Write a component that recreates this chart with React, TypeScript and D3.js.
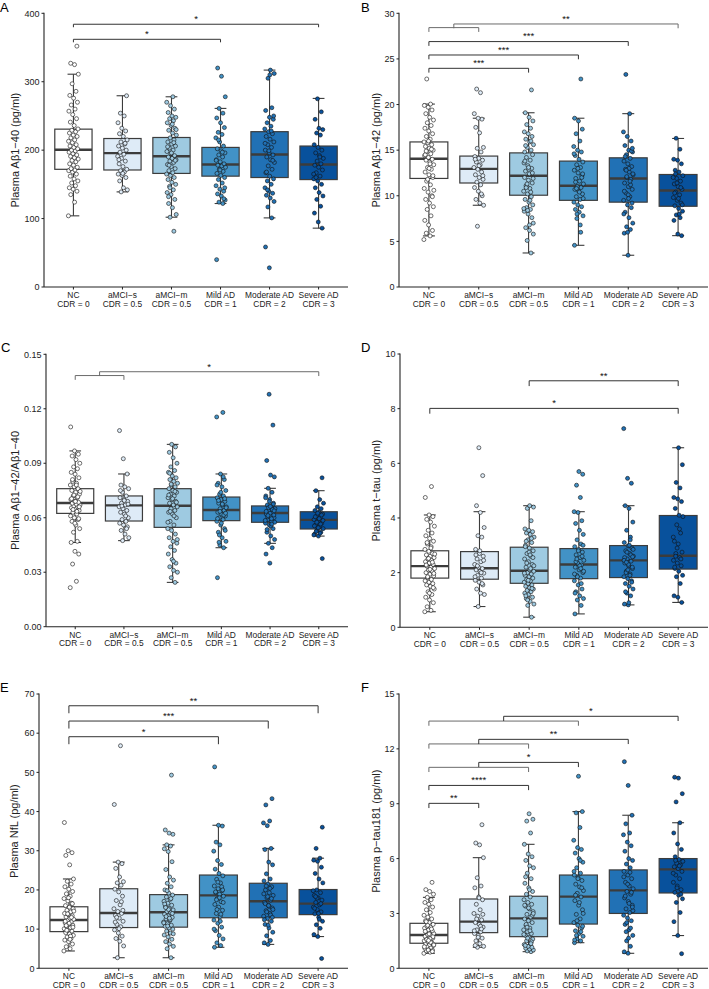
import React from 'react';
import * as d3 from 'd3';

const categories = ['NC', 'aMCI−s', 'aMCI−m', 'Mild AD', 'Moderate AD', 'Severe AD'];
const cdrLabels = ['CDR = 0', 'CDR = 0.5', 'CDR = 0.5', 'CDR = 1', 'CDR = 2', 'CDR = 3'];
const groupColors = ['#ffffff', '#deebf7', '#9ecae1', '#4292c6', '#2171b5', '#08519c'];

// box stats: [whiskerLow, q1, median, q3, whiskerHigh]
const boxA = [[104, 172, 200.5, 230.7, 311], [139, 171, 195.6, 217, 279.5], [102, 166, 191, 218.5, 278], [122, 162, 179, 204, 261], [101, 160, 193.7, 227, 317], [86, 157, 179, 206, 275.6]];
const boxB = [[5.6, 11.9, 14.05, 15.9, 20.05], [8.96, 11.4, 12.95, 14.35, 18.5], [3.73, 10.06, 12.2, 14.7, 19.1], [4.57, 9.5, 11.1, 13.8, 18.5], [3.48, 9.3, 11.9, 14.16, 19.0], [5.63, 8.85, 10.57, 12.33, 16.28]];
const boxC = [[0.0464, 0.0624, 0.0681, 0.076, 0.0968], [0.0474, 0.0582, 0.0668, 0.072, 0.0841], [0.0244, 0.0547, 0.0666, 0.076, 0.1004], [0.0435, 0.0584, 0.0643, 0.0714, 0.0841], [0.0459, 0.0575, 0.0626, 0.0665, 0.0762], [0.0499, 0.0538, 0.0588, 0.0633, 0.0749]];
const boxD = [[0.57, 1.8, 2.24, 2.8, 4.11], [0.76, 1.76, 2.16, 2.77, 4.23], [0.37, 1.61, 2.07, 2.93, 4.45], [0.49, 1.78, 2.3, 2.88, 4.23], [0.82, 1.82, 2.45, 2.99, 4.45], [0.91, 2.13, 2.62, 4.09, 6.57]];
const boxE = [[4.42, 9.36, 12.33, 15.7, 22.8], [2.7, 10.4, 14.1, 20.3, 27.1], [2.7, 10.5, 14.3, 18.8, 31.5], [5.36, 12.9, 18.6, 23.8, 36.5], [6.1, 12.9, 17.1, 21.7, 30.6], [8.1, 13.7, 16.5, 20.1, 28.1]];
const boxF = [[0.82, 1.37, 1.82, 2.46, 3.88], [1.15, 1.95, 2.55, 3.79, 6.05], [0.91, 1.73, 2.73, 3.94, 6.78], [1.4, 2.42, 3.92, 5.1, 8.57], [0.82, 3.0, 4.26, 5.38, 8.37], [1.79, 4.12, 5.41, 6.0, 7.96]];

// individual observations per group
const ptsA = [
  [104, 124, 135, 140, 143, 145, 148, 152, 155, 158, 162, 165, 168, 170, 171, 173, 175, 178, 180, 183, 185, 187, 189, 191, 193, 195, 197, 199, 200, 202, 204, 206, 208, 211, 213, 215, 218, 220, 222, 225, 227, 229, 231, 236, 241, 246, 252, 257, 260, 266, 270, 276, 280, 286, 297, 311, 325, 327, 352],
  [139, 142, 145, 155, 160, 163, 165, 168, 170, 172, 176, 180, 184, 188, 191, 194, 197, 200, 203, 206, 209, 212, 215, 220, 224, 228, 232, 240, 250, 254, 279.5, 166, 186, 210],
  [81.5, 102, 106, 116, 122, 128, 135, 138, 142, 147, 150, 153, 157, 160, 163, 165, 167, 170, 173, 176, 179, 182, 184, 186, 188, 190, 192, 195, 198, 200, 203, 206, 209, 212, 215, 218, 222, 225, 229, 232, 236, 240, 243, 246, 248, 250, 255, 260, 265, 270, 278, 178, 185, 196, 205, 211, 145, 230, 238, 132],
  [40, 122, 124, 127, 133, 136, 140, 143, 148, 152, 157, 160, 163, 166, 169, 172, 175, 177, 178, 180, 183, 186, 190, 193, 196, 199, 202, 206, 212, 218, 223, 226, 233, 240, 247, 254, 261, 278, 308, 320, 129, 171, 185, 197, 215, 145],
  [28, 58.5, 101, 117, 125, 130, 134, 137, 140, 145, 150, 155, 158, 162, 167, 172, 177, 182, 186, 190, 193, 196, 200, 204, 208, 212, 216, 220, 224, 227, 231, 235, 240, 245, 248, 258, 262, 305, 312, 317, 168, 185, 199, 210, 228, 142, 250, 310],
  [86, 95, 108, 118, 128, 133, 138, 145, 150, 155, 158, 162, 167, 171, 175, 178, 180, 184, 188, 192, 196, 200, 204, 208, 222, 225, 230, 232, 245, 256, 275, 165, 190, 160],
];
const ptsB = [
  [5.2, 5.6, 5.9, 6.2, 6.8, 7.3, 7.8, 8.5, 8.8, 9.2, 9.6, 10.0, 10.4, 10.8, 11.2, 11.6, 12.0, 12.3, 12.6, 12.9, 13.1, 13.4, 13.7, 13.9, 14.0, 14.2, 14.4, 14.6, 14.8, 15.0, 15.2, 15.4, 15.6, 15.8, 15.9, 16.2, 16.5, 16.8, 17.1, 17.4, 17.7, 18.0, 18.3, 18.6, 19.0, 19.4, 19.7, 19.9, 20.05, 22.8, 12.2, 13.0, 14.5, 15.1, 11.8, 10.6, 13.5, 14.9, 9.9, 16.0],
  [6.66, 8.96, 9.2, 9.6, 10.0, 10.5, 10.9, 11.2, 11.5, 11.8, 12.0, 12.3, 12.6, 12.9, 13.1, 13.4, 13.7, 13.9, 14.1, 14.3, 14.8, 15.2, 15.3, 16.9, 17.5, 18.4, 18.5, 19.0, 21.3, 21.7, 12.2, 13.3, 14.0, 10.2],
  [3.73, 5.1, 5.8, 6.2, 6.5, 7.6, 8.0, 8.3, 8.5, 8.7, 9.0, 9.3, 9.6, 9.9, 10.2, 10.5, 10.8, 11.1, 11.4, 11.7, 12.0, 10.4, 11.0, 11.9, 12.4, 12.7, 13.0, 13.3, 13.6, 13.9, 14.2, 14.5, 12.9, 13.8, 15.0, 15.3, 15.6, 15.9, 16.2, 16.5, 16.8, 17.0, 17.4, 17.8, 18.2, 18.6, 19.1, 21.6, 8.4, 8.6, 9.5, 10.9, 12.5, 13.1, 14.8, 16.0, 11.3, 7.0, 6.8, 15.5],
  [4.57, 6.0, 7.5, 7.8, 8.2, 8.5, 8.8, 9.0, 9.3, 9.6, 9.9, 10.2, 10.5, 10.7, 10.9, 11.0, 11.3, 11.6, 11.9, 12.2, 12.5, 12.8, 13.1, 13.4, 13.7, 14.0, 14.4, 14.8, 15.0, 15.4, 16.0, 16.8, 17.3, 18.2, 18.5, 22.8, 8.0, 9.7, 10.4, 11.5, 12.0, 13.0, 14.6, 6.8, 10.8, 12.4],
  [3.48, 5.9, 6.3, 6.6, 7.0, 7.6, 8.2, 8.7, 9.0, 9.5, 9.9, 10.3, 10.7, 11.0, 11.4, 11.8, 12.0, 12.3, 12.6, 12.9, 13.2, 13.5, 13.8, 14.1, 14.5, 14.8, 15.0, 15.5, 16.0, 16.5, 17.0, 19.0, 23.3, 9.2, 10.1, 10.5, 11.2, 12.1, 12.4, 13.0, 14.3, 14.9, 6.0, 8.0, 11.6, 12.8, 15.2, 9.7],
  [5.63, 5.8, 7.3, 7.6, 7.9, 8.3, 8.6, 8.9, 9.2, 9.5, 9.8, 10.1, 10.4, 10.7, 11.0, 11.3, 11.6, 11.9, 12.2, 12.6, 12.8, 13.5, 13.9, 14.0, 15.1, 16.3, 9.0, 9.7, 10.3, 10.9, 11.4, 12.0, 8.0, 12.4],
];
const ptsC = [
  [0.0215, 0.025, 0.0345, 0.04, 0.0415, 0.0464, 0.047, 0.052, 0.054, 0.056, 0.058, 0.059, 0.06, 0.061, 0.062, 0.063, 0.064, 0.065, 0.0655, 0.066, 0.0665, 0.067, 0.0675, 0.068, 0.0685, 0.069, 0.07, 0.071, 0.072, 0.073, 0.074, 0.075, 0.076, 0.077, 0.078, 0.079, 0.08, 0.082, 0.084, 0.085, 0.087, 0.088, 0.09, 0.092, 0.094, 0.095, 0.0968, 0.11, 0.0635, 0.0645, 0.066, 0.069, 0.0705, 0.0715, 0.0725, 0.0745, 0.078, 0.081, 0.0595, 0.057],
  [0.0474, 0.049, 0.051, 0.053, 0.055, 0.056, 0.057, 0.058, 0.059, 0.06, 0.062, 0.063, 0.064, 0.065, 0.066, 0.067, 0.068, 0.069, 0.07, 0.071, 0.072, 0.074, 0.076, 0.077, 0.078, 0.0841, 0.0925, 0.108, 0.061, 0.0665, 0.0675, 0.0695, 0.075, 0.054],
  [0.0244, 0.027, 0.03, 0.031, 0.033, 0.035, 0.037, 0.04, 0.042, 0.044, 0.046, 0.047, 0.049, 0.051, 0.053, 0.054, 0.056, 0.058, 0.06, 0.062, 0.063, 0.064, 0.065, 0.066, 0.067, 0.068, 0.069, 0.07, 0.071, 0.072, 0.073, 0.074, 0.075, 0.076, 0.077, 0.078, 0.079, 0.08, 0.081, 0.082, 0.083, 0.085, 0.086, 0.088, 0.09, 0.093, 0.096, 0.099, 0.1004, 0.0575, 0.061, 0.0635, 0.0685, 0.0705, 0.0725, 0.0745, 0.0785, 0.048, 0.036, 0.0845],
  [0.027, 0.0435, 0.045, 0.047, 0.049, 0.052, 0.054, 0.056, 0.058, 0.059, 0.06, 0.061, 0.062, 0.063, 0.064, 0.065, 0.066, 0.067, 0.068, 0.069, 0.07, 0.071, 0.072, 0.073, 0.075, 0.077, 0.079, 0.081, 0.0841, 0.1155, 0.118, 0.0465, 0.053, 0.057, 0.0595, 0.0615, 0.0635, 0.0655, 0.0675, 0.0695, 0.0705, 0.074, 0.078, 0.0825, 0.0505, 0.0625],
  [0.035, 0.04, 0.0435, 0.0459, 0.048, 0.05, 0.052, 0.054, 0.056, 0.057, 0.058, 0.059, 0.06, 0.061, 0.062, 0.063, 0.064, 0.065, 0.066, 0.067, 0.068, 0.07, 0.072, 0.074, 0.0762, 0.0825, 0.0835, 0.0915, 0.111, 0.128, 0.0585, 0.0595, 0.0605, 0.0615, 0.0625, 0.0635, 0.0645, 0.0655, 0.0575, 0.0555, 0.0535, 0.0675, 0.069, 0.071, 0.0565, 0.0612, 0.0638, 0.0662],
  [0.0375, 0.0499, 0.051, 0.052, 0.053, 0.054, 0.055, 0.056, 0.057, 0.058, 0.059, 0.06, 0.061, 0.062, 0.063, 0.064, 0.065, 0.066, 0.068, 0.07, 0.0749, 0.082, 0.0545, 0.0555, 0.0565, 0.0575, 0.0585, 0.0595, 0.0605, 0.0615, 0.0625, 0.0505, 0.0515, 0.0525],
];
const ptsD = [
  [0.57, 0.62, 0.75, 0.9, 1.0, 1.1, 1.2, 1.3, 1.4, 1.5, 1.55, 1.6, 1.65, 1.7, 1.75, 1.82, 1.88, 1.94, 2.0, 2.05, 2.1, 2.15, 2.2, 2.24, 2.3, 2.35, 2.4, 2.45, 2.5, 2.55, 2.6, 2.65, 2.7, 2.78, 2.85, 2.95, 3.05, 3.15, 3.25, 3.35, 3.45, 3.55, 3.7, 3.85, 3.95, 4.05, 4.11, 4.75, 5.15, 1.85, 1.97, 2.12, 2.28, 2.38, 2.52, 2.68, 2.9, 3.1, 1.45, 1.25],
  [0.76, 1.2, 1.25, 1.4, 1.55, 1.65, 1.72, 1.8, 1.9, 1.98, 2.05, 2.1, 2.15, 2.2, 2.3, 2.4, 2.5, 2.6, 2.7, 2.85, 3.3, 3.35, 3.65, 4.2, 4.45, 5.55, 6.57, 1.85, 2.0, 2.25, 2.45, 2.8, 2.65, 1.6],
  [0.37, 0.8, 0.85, 0.95, 1.05, 1.1, 1.2, 1.25, 1.3, 1.35, 1.4, 1.45, 1.5, 1.55, 1.6, 1.65, 1.7, 1.75, 1.8, 1.85, 1.9, 1.95, 2.0, 2.05, 2.1, 2.2, 2.3, 2.4, 2.5, 2.6, 2.7, 2.8, 2.9, 3.0, 3.1, 3.2, 3.3, 3.4, 3.45, 3.5, 3.55, 3.6, 3.9, 4.35, 4.4, 4.45, 1.15, 1.42, 1.72, 1.98, 2.15, 2.35, 2.55, 2.75, 2.95, 3.25, 1.0, 2.25, 2.65, 3.15],
  [0.49, 0.8, 1.0, 1.05, 1.15, 1.3, 1.4, 1.55, 1.7, 1.8, 1.9, 2.0, 2.1, 2.2, 2.28, 2.35, 2.45, 2.55, 2.65, 2.75, 2.85, 2.95, 3.05, 3.2, 3.4, 3.55, 3.8, 3.9, 4.2, 4.23, 4.75, 5.2, 5.6, 5.7, 1.25, 1.6, 1.85, 2.05, 2.25, 2.4, 2.6, 2.8, 1.95, 2.15, 2.5, 3.0],
  [0.82, 0.85, 1.15, 1.25, 1.4, 1.5, 1.6, 1.7, 1.78, 1.85, 1.95, 2.05, 2.15, 2.25, 2.35, 2.42, 2.5, 2.6, 2.7, 2.8, 2.9, 2.98, 3.1, 3.3, 3.55, 3.85, 4.35, 4.45, 5.27, 5.45, 7.27, 1.9, 2.0, 2.2, 2.3, 2.55, 2.65, 2.75, 2.85, 3.0, 1.3, 1.65, 2.1, 2.45, 3.2, 2.38, 2.58, 0.9],
  [0.91, 1.1, 1.15, 1.6, 1.85, 1.9, 2.05, 2.15, 2.25, 2.35, 2.45, 2.55, 2.7, 2.75, 3.05, 3.15, 3.45, 3.75, 4.05, 4.1, 4.35, 4.6, 4.7, 4.75, 5.1, 5.3, 5.95, 6.57, 2.2, 2.5, 2.9, 3.3, 3.6, 2.6],
];
const ptsE = [
  [4.42, 5.0, 5.5, 6.2, 6.8, 7.2, 7.6, 8.0, 8.4, 8.8, 9.1, 9.5, 9.8, 10.1, 10.4, 10.7, 11.0, 11.3, 11.6, 11.9, 12.2, 12.5, 12.8, 13.1, 13.4, 13.7, 14.0, 14.4, 14.8, 15.2, 15.6, 16.0, 16.6, 17.2, 17.8, 18.4, 19.0, 19.6, 20.2, 20.8, 21.5, 22.2, 22.8, 26.4, 28.8, 29.5, 30.0, 37.2, 8.2, 9.7, 10.5, 11.5, 12.0, 13.0, 13.9, 14.6, 7.4, 10.9, 16.5, 18.0],
  [2.7, 5.7, 6.9, 7.6, 8.2, 9.0, 9.8, 10.6, 11.2, 12.0, 12.8, 13.5, 14.0, 14.5, 15.2, 16.2, 17.3, 18.4, 19.5, 20.2, 21.2, 21.8, 22.1, 23.3, 25.5, 26.7, 27.1, 41.8, 56.8, 13.0, 14.8, 10.1, 11.8, 17.0],
  [2.7, 5.0, 5.6, 6.2, 6.8, 7.4, 8.0, 8.5, 9.0, 9.5, 10.0, 10.3, 10.7, 11.0, 11.4, 11.8, 12.2, 12.6, 13.0, 13.4, 13.8, 14.2, 14.5, 14.9, 15.3, 15.7, 16.1, 16.6, 17.1, 17.6, 18.2, 18.7, 19.2, 20.0, 20.8, 21.7, 22.5, 23.3, 25.2, 27.2, 29.8, 30.5, 31.2, 31.5, 34.2, 34.5, 35.3, 49.3, 10.8, 11.6, 12.4, 13.2, 14.0, 15.0, 16.4, 17.8, 19.8, 8.8, 12.8, 15.5],
  [5.36, 5.8, 6.5, 7.5, 8.4, 9.6, 10.5, 11.5, 12.3, 13.2, 14.0, 14.8, 15.6, 16.3, 17.0, 17.8, 18.4, 18.9, 19.3, 19.8, 20.3, 21.0, 21.8, 22.7, 23.6, 24.2, 25.3, 26.5, 27.5, 29.9, 31.5, 32.2, 36.3, 36.5, 51.4, 13.8, 15.0, 16.8, 18.0, 19.5, 20.8, 22.0, 10.0, 12.0, 17.5, 20.0],
  [6.1, 6.5, 7.1, 8.3, 9.2, 10.3, 11.2, 12.0, 12.7, 13.3, 14.0, 14.7, 15.4, 16.1, 16.8, 17.4, 18.0, 18.6, 19.3, 20.0, 20.8, 21.5, 22.3, 22.8, 24.1, 26.4, 27.1, 30.3, 30.6, 36.4, 37.1, 37.6, 41.7, 43.3, 11.0, 12.4, 13.6, 14.4, 15.0, 15.8, 16.5, 17.8, 18.3, 19.0, 20.4, 21.0, 13.0, 16.0],
  [2.5, 8.1, 8.6, 10.2, 11.1, 12.0, 13.0, 13.9, 14.4, 15.0, 15.6, 16.2, 16.8, 17.4, 18.0, 18.6, 19.3, 20.0, 21.8, 22.8, 24.2, 25.8, 27.3, 27.6, 28.1, 30.6, 36.0, 14.0, 15.3, 16.5, 17.9, 19.8, 12.5, 18.3],
];
const ptsF = [
  [0.82, 0.88, 0.95, 1.0, 1.05, 1.1, 1.15, 1.2, 1.25, 1.3, 1.35, 1.4, 1.45, 1.5, 1.55, 1.6, 1.65, 1.7, 1.75, 1.8, 1.85, 1.9, 1.95, 2.0, 2.05, 2.1, 2.2, 2.25, 2.3, 2.4, 2.5, 2.6, 2.7, 2.8, 2.9, 3.05, 3.2, 3.35, 3.5, 3.6, 3.75, 3.88, 4.05, 4.2, 4.3, 4.7, 1.0, 1.18, 1.42, 1.58, 1.72, 1.88, 2.02, 2.15, 2.35, 1.28, 1.62, 2.55, 0.92, 1.52],
  [1.15, 1.2, 1.35, 1.5, 1.65, 1.8, 1.9, 2.0, 2.1, 2.25, 2.4, 2.5, 2.65, 2.85, 3.0, 3.2, 3.5, 3.75, 3.9, 4.4, 4.5, 4.95, 6.05, 6.75, 6.85, 7.85, 1.7, 2.05, 2.3, 2.7, 2.95, 3.85, 1.25, 2.15],
  [0.91, 0.95, 1.0, 1.05, 1.1, 1.15, 1.2, 1.3, 1.4, 1.5, 1.6, 1.7, 1.8, 1.9, 2.0, 2.1, 2.2, 2.35, 2.5, 2.6, 2.7, 2.8, 2.95, 3.1, 3.25, 3.4, 3.5, 3.6, 3.75, 3.9, 4.05, 4.2, 4.4, 4.65, 4.9, 5.2, 5.5, 5.6, 5.9, 6.1, 6.25, 6.78, 7.4, 8.05, 8.15, 8.45, 1.25, 1.45, 1.65, 1.85, 2.05, 2.4, 2.9, 3.3, 3.45, 1.35, 2.25, 3.0, 4.3, 5.0],
  [1.4, 1.5, 1.6, 1.75, 1.9, 2.05, 2.2, 2.35, 2.5, 2.7, 2.95, 3.2, 3.45, 3.7, 3.9, 4.1, 4.25, 4.45, 4.6, 4.8, 4.95, 5.1, 5.2, 5.5, 5.8, 6.0, 6.3, 6.5, 6.6, 7.0, 7.7, 8.5, 8.57, 10.5, 1.55, 2.0, 2.6, 3.0, 3.6, 4.0, 4.4, 4.9, 5.3, 5.9, 1.8, 2.3],
  [0.82, 0.9, 1.2, 1.5, 1.8, 2.1, 2.4, 2.6, 2.75, 2.9, 3.05, 3.25, 3.45, 3.65, 3.85, 4.05, 4.2, 4.35, 4.5, 4.7, 4.9, 5.1, 5.3, 5.5, 5.7, 5.9, 6.0, 6.4, 6.7, 6.9, 7.3, 7.4, 7.9, 8.37, 10.0, 11.3, 2.2, 2.5, 3.15, 3.55, 3.95, 4.15, 4.6, 5.0, 5.25, 2.0, 3.35, 1.65],
  [0.8, 1.79, 2.55, 3.05, 3.6, 3.8, 4.0, 4.15, 4.3, 4.5, 4.7, 4.9, 5.1, 5.3, 5.45, 5.55, 5.65, 5.75, 5.85, 5.95, 6.1, 6.5, 6.8, 7.4, 7.96, 9.1, 9.55, 10.4, 10.45, 4.05, 4.4, 5.2, 5.6, 5.9],
];

// significance brackets: category index positions (fractional = between groups), line value, label, grouping flag
const bracketsA = [
  { from: 0, to: 3, y: 362, label: '*', group: false },
  { from: 0, to: 5, y: 384, label: '*', group: false },
];
const bracketsB = [
  { from: 0, to: 2, y: 23.97, label: '***', group: false },
  { from: 0, to: 3, y: 25.43, label: '***', group: false },
  { from: 0, to: 4, y: 26.9, label: '***', group: false },
  { from: 0, to: 1, y: 28.43, label: '', group: true },
  { from: 0.5, to: 5, y: 28.83, label: '**', group: true },
];
const bracketsC = [
  { from: 0, to: 1, y: 0.1383, label: '', group: true },
  { from: 0.5, to: 5, y: 0.1404, label: '*', group: true },
];
const bracketsD = [
  { from: 2, to: 5, y: 9.02, label: '**', group: false },
  { from: 0, to: 5, y: 8.01, label: '*', group: false },
];
const bracketsE = [
  { from: 0, to: 3, y: 59.1, label: '*', group: false },
  { from: 0, to: 4, y: 63.1, label: '***', group: false },
  { from: 0, to: 5, y: 67.0, label: '**', group: false },
];
const bracketsF = [
  { from: 0, to: 1, y: 9.02, label: '**', group: false },
  { from: 0, to: 2, y: 10.0, label: '****', group: false },
  { from: 0, to: 2, y: 10.99, label: '', group: true },
  { from: 1, to: 3, y: 11.26, label: '*', group: false },
  { from: 0, to: 2, y: 12.27, label: '', group: true },
  { from: 1, to: 4, y: 12.52, label: '**', group: false },
  { from: 0, to: 3, y: 13.52, label: '', group: true },
  { from: 1.5, to: 5, y: 13.78, label: '*', group: false },
];

const ticksA = [0, 100, 200, 300, 400];
const ticksB = [0, 5, 10, 15, 20, 25, 30];
const ticksC = [0, 0.03, 0.06, 0.09, 0.12, 0.15];
const ticksD = [0, 2, 4, 6, 8, 10];
const ticksE = [0, 10, 20, 30, 40, 50, 60, 70];
const ticksF = [0, 3, 6, 9, 12, 15];

const FONT = "'Liberation Sans', Arial, Helvetica, sans-serif";
const INK = '#222';
const BOXLINE = '#3c3c3c';

type Bracket = { from: number; to: number; y: number; label: string; group: boolean };

interface PanelProps {
  letter: string;
  title: string;
  box: number[][];
  pts: number[][];
  brackets: Bracket[];
  ticks: number[];
  fmt: (v: number) => string;
  left: number;
  right: number;
  top: number;
  bottom: number;
  labelX: number;
  letterX: number;
  letterY: number;
  drop: number;
}

function Panel(p: PanelProps) {
  const u = (p.right - p.left) / 6.2;
  const x = d3.scalePoint<string>().domain(categories).range([p.left + 0.6 * u, p.right - 0.6 * u]);
  const step = x.step();
  const x0 = x(categories[0]) as number;
  const xf = (f: number) => x0 + f * step;
  const yMax = p.ticks[p.ticks.length - 1];
  const y = d3.scaleLinear().domain([0, yMax]).range([p.bottom, p.top]);
  const bw = 0.76 * step;
  const cw = 0.24 * step;
  const jit = 5;

  return (
    <g fontFamily={FONT}>
      <text x={p.letterX} y={p.letterY} fontSize={13} fill="#000">{p.letter}</text>
      {/* axes */}
      <line x1={p.left} x2={p.left} y1={p.top - 0.5} y2={p.bottom} stroke={INK} strokeWidth={1.1} />
      <line x1={p.left} x2={p.right} y1={p.bottom} y2={p.bottom} stroke={INK} strokeWidth={1.1} />
      {p.ticks.map((t) => (
        <g key={'t' + t}>
          <line x1={p.left - 2.5} x2={p.left} y1={y(t)} y2={y(t)} stroke={INK} strokeWidth={1} />
          <text x={p.left - 4.5} y={y(t) + 3.2} fontSize={9} textAnchor="end" fill={INK}>{p.fmt(t)}</text>
        </g>
      ))}
      {categories.map((c, i) => (
        <g key={'c' + i}>
          <line x1={x(c)} x2={x(c)} y1={p.bottom} y2={p.bottom + 2.5} stroke={INK} strokeWidth={1} />
          <text x={x(c)} y={p.bottom + 11} fontSize={8.4} textAnchor="middle" fill={INK}>{c}</text>
          <text x={x(c)} y={p.bottom + 19.5} fontSize={8.4} textAnchor="middle" fill={INK}>{cdrLabels[i]}</text>
        </g>
      ))}
      <text
        transform={`translate(${p.labelX},${(p.top + p.bottom) / 2}) rotate(-90)`}
        fontSize={11}
        textAnchor="middle"
        fill={INK}
      >
        {p.title}
      </text>
      {/* boxes */}
      {categories.map((c, i) => {
        const cx = x(c) as number;
        const [lo, q1, med, q3, hi] = p.box[i];
        return (
          <g key={'b' + i}>
            <line x1={cx} x2={cx} y1={y(hi)} y2={y(lo)} stroke={BOXLINE} strokeWidth={1.1} />
            <line x1={cx - cw / 2} x2={cx + cw / 2} y1={y(hi)} y2={y(hi)} stroke={BOXLINE} strokeWidth={1.1} />
            <line x1={cx - cw / 2} x2={cx + cw / 2} y1={y(lo)} y2={y(lo)} stroke={BOXLINE} strokeWidth={1.1} />
            <rect x={cx - bw / 2} y={y(q3)} width={bw} height={y(q1) - y(q3)} fill={groupColors[i]} stroke={BOXLINE} strokeWidth={1.2} />
            <line x1={cx - bw / 2} x2={cx + bw / 2} y1={y(med)} y2={y(med)} stroke={BOXLINE} strokeWidth={2.4} />
          </g>
        );
      })}
      {/* points */}
      {categories.map((c, i) => {
        const cx = x(c) as number;
        return (
          <g key={'p' + i}>
            {p.pts[i].map((v, j) => {
              const off = (((j * 0.6180339887 + i * 0.37) % 1) - 0.5) * 2 * jit;
              return <circle key={j} cx={cx + off} cy={y(v)} r={2} fill={groupColors[i]} stroke="#111" strokeWidth={0.6} />;
            })}
          </g>
        );
      })}
      {/* significance brackets */}
      {p.brackets.map((b, k) => {
        const xa = xf(b.from);
        const xb = xf(b.to);
        const yy = y(b.y);
        const col = b.group ? '#6b6b6b' : '#333';
        return (
          <g key={'s' + k}>
            <path d={`M${xa},${yy + p.drop}V${yy}H${xb}V${yy + p.drop}`} fill="none" stroke={col} strokeWidth={1} />
            {b.label && (
              <text x={(xa + xb) / 2} y={yy - 2.2} fontSize={9.5} textAnchor="middle" fill="#111">{b.label}</text>
            )}
          </g>
        );
      })}
    </g>
  );
}

const fmtInt = (v: number) => d3.format('d')(v);
const fmt2 = (v: number) => d3.format('.2f')(v);

export default function App() {
  return (
    <svg
      width={709}
      height={989}
      viewBox="0 0 709 989"
      style={{ position: 'absolute', left: 0, top: 0, background: '#fff' }}
    >
      <rect width={709} height={989} fill="#fff" />
      <Panel letter="A" title="Plasma Aβ1−40 (pg/ml)" box={boxA} pts={ptsA} brackets={bracketsA} ticks={ticksA} fmt={fmtInt}
        left={44} right={348} top={13.3} bottom={287} labelX={18.5} letterX={0} letterY={12} drop={3} />
      <Panel letter="B" title="Plasma Aβ1−42 (pg/ml)" box={boxB} pts={ptsB} brackets={bracketsB} ticks={ticksB} fmt={fmtInt}
        left={399} right={708} top={13.3} bottom={287} labelX={380} letterX={361} letterY={12} drop={4.3} />
      <Panel letter="C" title="Plasma Aβ1−42/Aβ1−40" box={boxC} pts={ptsC} brackets={bracketsC} ticks={ticksC} fmt={fmt2}
        left={46} right={348} top={354.3} bottom={626.7} labelX={19} letterX={1} letterY={352} drop={4.3} />
      <Panel letter="D" title="Plasma t−tau (pg/ml)" box={boxD} pts={ptsD} brackets={bracketsD} ticks={ticksD} fmt={fmtInt}
        left={400} right={708} top={354} bottom={627.3} labelX={380} letterX={361} letterY={352} drop={5.3} />
      <Panel letter="E" title="Plasma NfL (pg/ml)" box={boxE} pts={ptsE} brackets={bracketsE} ticks={ticksE} fmt={fmtInt}
        left={39} right={348} top={694} bottom={968.3} labelX={18} letterX={0} letterY={692} drop={7.5} />
      <Panel letter="F" title="Plasma p−tau181 (pg/ml)" box={boxF} pts={ptsF} brackets={bracketsF} ticks={ticksF} fmt={fmtInt}
        left={399} right={708} top={694} bottom={968.3} labelX={380} letterX={361} letterY={692} drop={4.7} />
    </svg>
  );
}
